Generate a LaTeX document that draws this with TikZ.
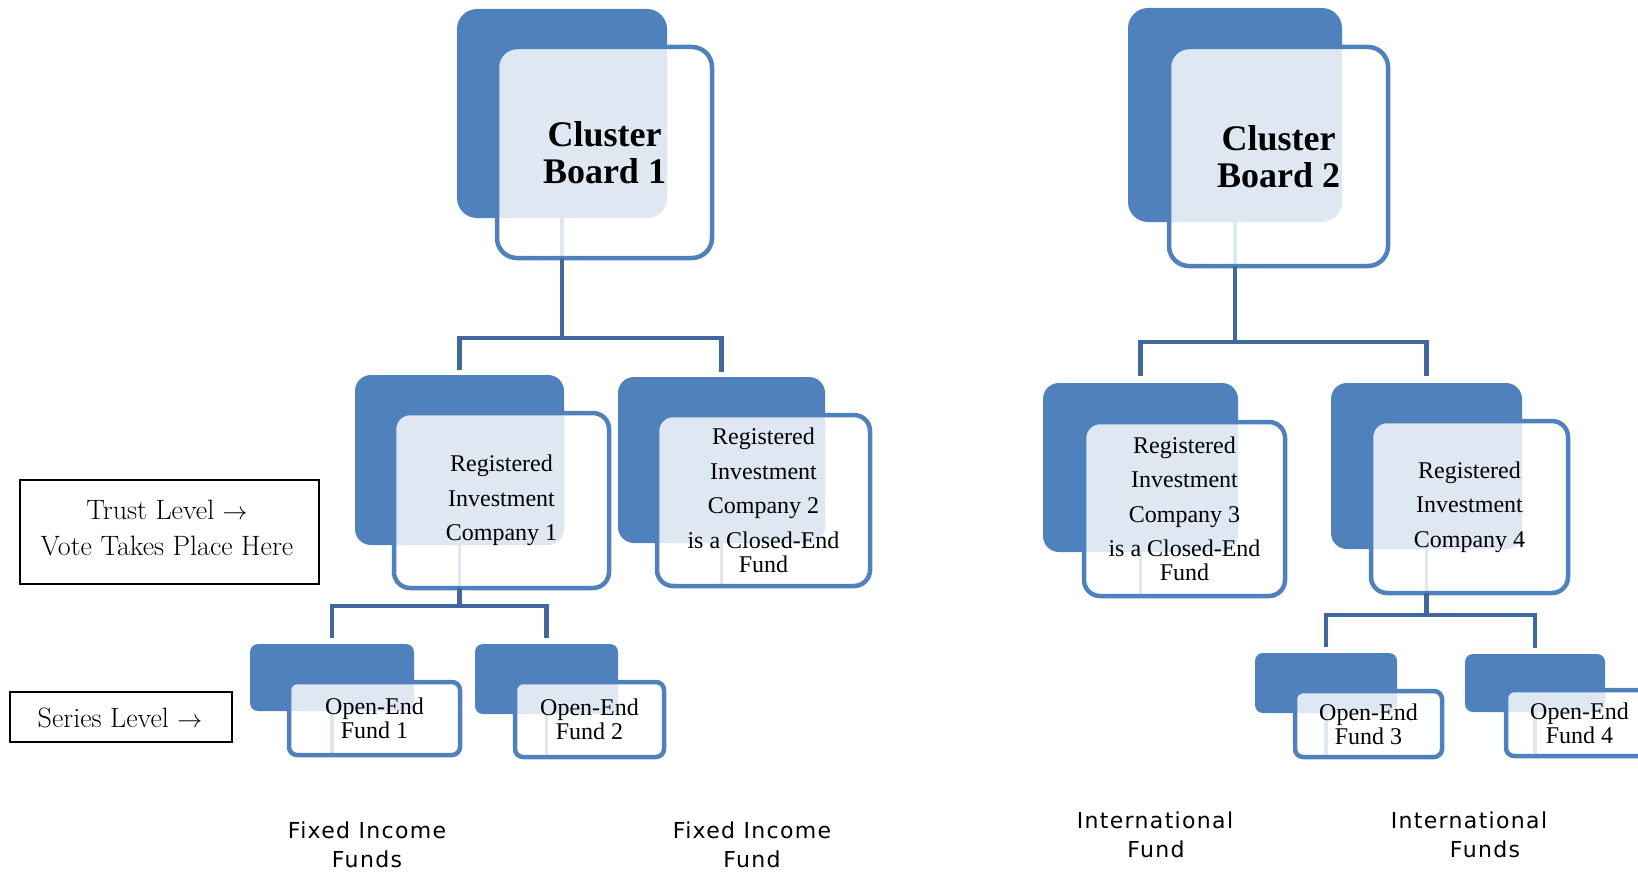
\documentclass[tikz,border=0pt]{standalone}
\usepackage{fontspec}
\newfontfamily\tnr{Liberation Serif}
\newfontfamily\vrd[LetterSpace=6]{DejaVu Sans}
\usetikzlibrary{fit}
\definecolor{boxblue}{RGB}{79,129,189}
\definecolor{connblue}{RGB}{64,104,156}
\definecolor{overlapc}{RGB}{222,231,242}
\newcommand\cbfont{\tnr\bfseries\fontsize{36}{37}\selectfont}
\newcommand\ricfont{\tnr\fontsize{24}{34.5}\selectfont}
\newcommand\oeffont{\tnr\fontsize{24}{24}\selectfont}
\tikzset{
  backbox/.style={fill=boxblue, draw=none, inner sep=0pt, outer sep=0pt},
  whitebox/.style={fill=white, draw=none, inner sep=0pt, outer sep=0pt},
  frontline/.style={draw=boxblue, line width=4.5pt, inner sep=0pt, outer sep=0pt},
  faint/.style={draw=overlapc, line width=3.5pt},
  conn/.style={draw=connblue, line width=4.5pt},
  lvlbox/.style={draw=black, line width=2pt, inner sep=0pt},
  lvltext/.style={font=\fontsize{28}{36}\selectfont, align=center, inner sep=0pt},
  fundlabel/.style={font=\vrd\fontsize{22}{29}\selectfont, anchor=base, inner sep=0pt}
}
\newcommand\orgunit[8]{%
  \coordinate (#1-b1) at (#2); \coordinate (#1-b2) at (#3);
  \coordinate (#1-f1) at (#4); \coordinate (#1-f2) at (#5);
  \node[backbox, rounded corners=#6, fit=(#1-b1)(#1-b2)] (#1b) {};
  \node[whitebox, rounded corners=#6, fit=(#1-f1)(#1-f2)] (#1w) {};
  \begin{scope}
    \clip[rounded corners=#6] (#1b.north west) rectangle (#1b.south east);
    \fill[overlapc, rounded corners=#6] (#1w.north west) rectangle (#1w.south east);
  \end{scope}
  \draw[faint] (#1b.south) -- (#1b.south |- #1w.south);
  \node[frontline, rounded corners=#6, fit=(#1-f1)(#1-f2)] (#1f) {};
  \node[font=#7, align=center, inner sep=0pt] (#1t) at (#1f.center) {#8};
}
\begin{document}
\begin{tikzpicture}[x=1pt,y=-1pt]
\useasboundingbox (0,0) rectangle (1638,872);
\clip (0,0) rectangle (1638,872);

\orgunit{cb1}{457,9}{667,218}{497,47}{712,258}{20pt}{\cbfont}{Cluster\\Board 1}
\orgunit{cb2}{1128,8}{1342,222}{1169,47}{1388,266}{20pt}{\cbfont}{Cluster\\Board 2}
\orgunit{ric1}{355,375}{564,545}{394,413}{609,588}{16pt}{\ricfont}{Registered\\Investment\\Company 1}
\orgunit{ric2}{618,377}{825,543}{657,415}{870,586}{16pt}{\ricfont}{Registered\\Investment\\Company 2\\is a Closed-End\\[-10.5pt]Fund}
\orgunit{ric3}{1043,383}{1238,552}{1084,422}{1285,596}{16pt}{\ricfont}{Registered\\Investment\\Company 3\\is a Closed-End\\[-10.5pt]Fund}
\orgunit{ric4}{1331,383}{1522,549}{1371,421}{1568,593}{16pt}{\ricfont}{Registered\\Investment\\Company 4}
\orgunit{oef1}{250,644}{414,711}{289,682}{460,755}{8pt}{\oeffont}{Open-End\\Fund 1}
\orgunit{oef2}{475,644}{618,714}{515,682}{664,757}{8pt}{\oeffont}{Open-End\\Fund 2}
\orgunit{oef3}{1255,653}{1397,713}{1295,691}{1442,757}{8pt}{\oeffont}{Open-End\\Fund 3}
\orgunit{oef4}{1465,654}{1605,712}{1506,690}{1653,756}{8pt}{\oeffont}{Open-End\\Fund 4}

% connectors
\draw[conn] (cb1b.south |- cb1f.south) -- (cb1b.south |- 0,338) -| ([yshift=5pt]ric1b.north);
\draw[conn] (cb1b.south |- cb1f.south) -- (cb1b.south |- 0,338) -| ([yshift=5pt]ric2b.north);
\draw[conn] (cb2b.south |- cb2f.south) -- (cb2b.south |- 0,342) -| ([yshift=7pt]ric3b.north);
\draw[conn] (cb2b.south |- cb2f.south) -- (cb2b.south |- 0,342) -| ([yshift=7pt]ric4b.north);
\draw[conn] (ric1b.south |- ric1f.south) -- (ric1b.south |- 0,606) -| ([yshift=6pt]oef1b.north);
\draw[conn] (ric1b.south |- ric1f.south) -- (ric1b.south |- 0,606) -| ([yshift=6pt]oef2b.north);
\draw[conn] (ric4b.south |- ric4f.south) -- (ric4b.south |- 0,615) -| ([yshift=6pt]oef3b.north);
\draw[conn] (ric4b.south |- ric4f.south) -- (ric4b.south |- 0,615) -| ([yshift=6pt]oef4b.north);

% level boxes
\node[lvlbox, minimum width=299pt, minimum height=104pt] (trust) at (169.5,532) {};
\node[lvltext] (trustt) at (167,528) {Trust Level $\rightarrow$\\Vote Takes Place Here};
\node[lvlbox, minimum width=222pt, minimum height=50pt] (series) at (121,717) {};
\node[lvltext] (seriest) at (120,718) {Series Level $\rightarrow$};

% fund labels
\node[fundlabel] (l1a) at (367,838) {Fixed Income};
\node[fundlabel] (l1b) at (367,867) {Funds};
\node[fundlabel] (l2a) at (752,838) {Fixed Income};
\node[fundlabel] (l2b) at (752,867) {Fund};
\node[fundlabel] (l3a) at (1155,828) {International};
\node[fundlabel] (l3b) at (1156,857) {Fund};
\node[fundlabel] (l4a) at (1469,828) {International};
\node[fundlabel] (l4b) at (1485,857) {Funds};
\end{tikzpicture}
\end{document}
